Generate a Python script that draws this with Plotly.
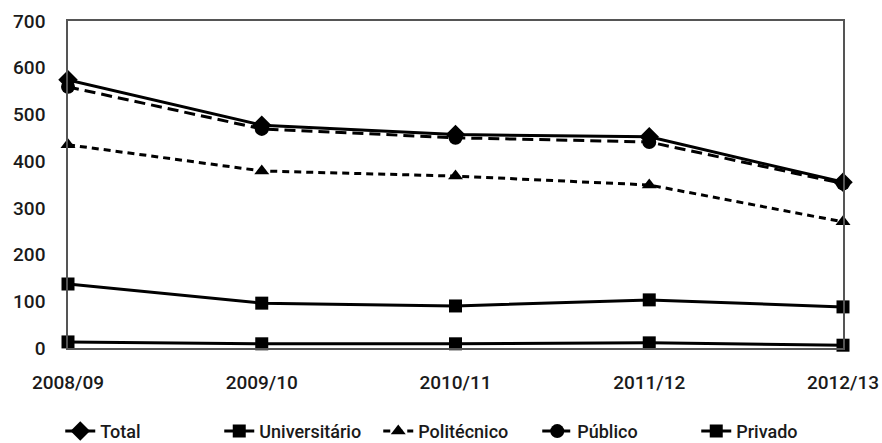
import plotly.graph_objects as go

years = ["2008/09", "2009/10", "2010/11", "2011/12", "2012/13"]
total = [574, 477, 457, 452, 355]
universitario = [137, 96, 90, 103, 88]
politecnico = [435, 379, 368, 349, 270]
publico = [559, 469, 450, 441, 352]
privado = [13, 9, 9, 11, 6]

series = [
    ("Total", total, "solid", "diamond", 15),
    ("Universitário", universitario, "solid", "square", 13),
    ("Politécnico", politecnico, "7px,5px", "triangle-up", 13),
    ("Público", publico, "11px,6px", "circle", 14),
    ("Privado", privado, "solid", "square", 13),
]

fig = go.Figure()
for name, vals, dash, sym, size in series:
    fig.add_trace(go.Scatter(
        x=years, y=vals, name=name, mode="lines+markers",
        line=dict(color="black", width=3, dash=dash),
        marker=dict(symbol=sym, size=size, color="black"),
        cliponaxis=False,
    ))

font = dict(family="Roboto", size=19, color="#1a1a1a", weight=500)

fig.update_layout(
    width=882, height=443,
    margin=dict(l=68, r=39, t=21, b=95, autoexpand=False),
    paper_bgcolor="white", plot_bgcolor="white",
    font=font,
    showlegend=True,
    legend=dict(orientation="h", x=-0.01, xanchor="left", y=-0.255, yanchor="middle",
                font=dict(family="Roboto", size=18, color="#1a1a1a", weight=500),
                entrywidth=114, entrywidthmode="pixels", tracegroupgap=0),
    xaxis=dict(type="category", range=[0, 4], showgrid=False, zeroline=False,
               showline=True, linecolor="#555", linewidth=1.5, mirror=True,
               ticks="", ticklabelstandoff=16, tickfont=font),
    yaxis=dict(range=[0, 700], dtick=100, showgrid=False, zeroline=False,
               showline=True, linecolor="#555", linewidth=1.5, mirror=True,
               ticks="", ticklabelstandoff=17, tickfont=font),
)

fig.write_html("out.html")
